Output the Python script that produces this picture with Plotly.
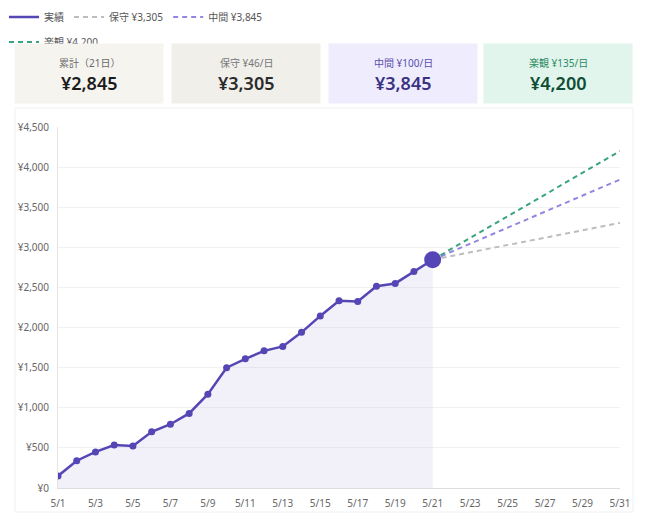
import plotly.graph_objects as go

# daily cumulative totals, 5/1 - 5/21
dates = ["2025-05-%02d" % d for d in range(1, 22)]
cumulative = [150, 340, 450, 535, 525, 700, 795, 930, 1170, 1500, 1610,
              1710, 1765, 1940, 2145, 2335, 2325, 2515, 2550, 2700, 2845]

# projections from the last actual day to month end
proj_dates = ["2025-05-21", "2025-05-31"]
proj_conservative = [2845, 3305]
proj_middle = [2845, 3845]
proj_optimistic = [2845, 4200]

card_labels = ["累計（21日）", "保守 ¥46/日", "中間 ¥100/日", "楽観 ¥135/日"]
card_values = ["¥2,845", "¥3,305", "¥3,845", "¥4,200"]

PURPLE = "#5546b5"
FONT = "Noto Sans, Noto Sans CJK JP, sans-serif"

# the page body adds an 8px offset, so work in screen pixels and shift
OFF = 8
W, H = 653 - OFF, 517 - OFF
L, R, T, B = 58 - OFF, 620 - OFF, 127 - OFF, 488 - OFF
def px_x(p):
    return (p - OFF - L) / (R - L)
def px_y(p):
    return (B - (p - OFF)) / (B - T)

fig = go.Figure()

fig.add_trace(go.Scatter(
    x=dates, y=cumulative, mode="lines", fill="tozeroy",
    fillcolor="rgba(85,70,181,0.08)", line=dict(width=0),
    showlegend=False, hoverinfo="skip",
))
fig.add_trace(go.Scatter(
    x=proj_dates, y=proj_conservative, mode="lines", name="保守 ¥3,305",
    line=dict(color="#bdbdbd", width=2, dash="5px,4px"), legendrank=2,
))
fig.add_trace(go.Scatter(
    x=proj_dates, y=proj_middle, mode="lines", name="中間 ¥3,845",
    line=dict(color="#9585e0", width=2, dash="5px,4px"), legendrank=3,
))
fig.add_trace(go.Scatter(
    x=proj_dates, y=proj_optimistic, mode="lines", name="楽観 ¥4,200",
    line=dict(color="#3aa57c", width=2, dash="5px,4px"), legend="legend2",
))
fig.add_trace(go.Scatter(
    x=dates, y=cumulative, mode="lines", name="実績",
    line=dict(color=PURPLE, width=2.5), legendrank=1,
))
sizes = [7] * (len(cumulative) - 1) + [17]
fig.add_trace(go.Scatter(
    x=dates, y=cumulative, mode="markers", showlegend=False,
    marker=dict(color=PURPLE, size=sizes, opacity=1, line=dict(width=0)),
))

# summary cards (annotations so they sit above the wrapped legend row)
card_bg = ["#f5f4ef", "#f0efea", "#efedfd", "#e2f5ec"]
label_col = ["#6b6b6b", "#777777", "#5a4fb0", "#2a8a63"]
value_col = ["#1c1c1c", "#2b2b2b", "#3b3282", "#0f4d36"]
card_cx = [89, 246, 403, 558]
annotations = []
for i in range(4):
    annotations.append(dict(
        xref="paper", yref="paper", x=px_x(card_cx[i]), y=px_y(73.5),
        text=" ", showarrow=False, width=148, height=59, borderpad=0,
        bgcolor=card_bg[i], xanchor="center", yanchor="middle",
    ))
for i in range(4):
    annotations.append(dict(
        xref="paper", yref="paper", x=px_x(card_cx[i]), y=px_y(63),
        text=card_labels[i], showarrow=False, xanchor="center", yanchor="middle",
        font=dict(family=FONT, size=10, color=label_col[i]),
    ))
    annotations.append(dict(
        xref="paper", yref="paper", x=px_x(card_cx[i]), y=px_y(83),
        text=card_values[i], showarrow=False,
        xanchor="center", yanchor="middle",
        font=dict(family=FONT, size=18, color=value_col[i], weight=600),
    ))

shapes = [
    # chart container outline
    dict(type="rect", xref="paper", yref="paper", x0=px_x(15), x1=px_x(633),
         y0=px_y(512), y1=px_y(108), line=dict(color="#f0f0f0", width=1),
         layer="below"),
    dict(type="line", xref="paper", yref="paper", x0=px_x(15), x1=px_x(430),
         y0=px_y(2), y1=px_y(2), line=dict(color="#eeeeee", width=1)),
]

fig.update_layout(
    width=W, height=H,
    margin=dict(l=L, r=W - R, t=T, b=H - B, autoexpand=False),
    paper_bgcolor="white", plot_bgcolor="white",
    font=dict(family=FONT, size=10, color="#666"),
    legend=dict(orientation="h", x=px_x(4), xanchor="left", y=px_y(17),
                yanchor="middle", font=dict(size=10, color="#555"),
                bgcolor="rgba(0,0,0,0)", traceorder="normal"),
    legend2=dict(orientation="h", x=px_x(4), xanchor="left", y=px_y(42),
                 yanchor="middle", font=dict(size=10, color="#555"),
                 bgcolor="rgba(0,0,0,0)"),
    xaxis=dict(
        type="date", range=["2025-05-01", "2025-05-31"],
        tick0="2025-05-01", dtick=2 * 86400000, tickformat="%-m/%-d",
        showgrid=False, showline=True, linecolor="#dddddd", linewidth=1,
        ticks="", ticklabelstandoff=6, tickfont=dict(size=10, color="#666"),
        zeroline=False,
    ),
    yaxis=dict(
        range=[0, 4500], dtick=500, tickprefix="¥", tickformat=",d",
        showgrid=True, gridcolor="#f2f2f2", gridwidth=1,
        showline=True, linecolor="#e6e6e6", linewidth=1,
        zeroline=False, ticks="", ticklabelstandoff=6,
        tickfont=dict(size=10, color="#666"),
    ),
    annotations=annotations,
    shapes=shapes,
    hovermode="closest",
)

fig.write_html("out.html")
